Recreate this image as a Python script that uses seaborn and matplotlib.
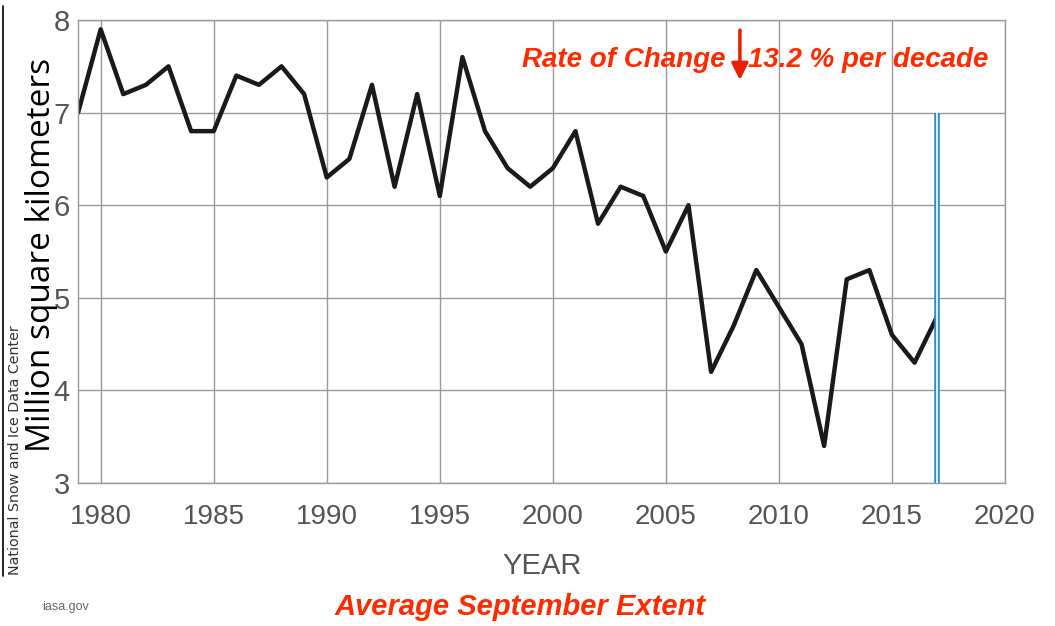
import numpy as np
import matplotlib
matplotlib.use("Agg")
import matplotlib.pyplot as plt
import seaborn as sns
import pandas as pd

# Average September sea ice extent (million km^2)
years = list(range(1979, 2018))
extent = [7.0, 7.9, 7.2, 7.3, 7.5, 6.8, 6.8, 7.4, 7.3, 7.5,
          7.2, 6.3, 6.5, 7.3, 6.2, 7.2, 6.1, 7.6, 6.8, 6.4,
          6.2, 6.4, 6.8, 5.8, 6.2, 6.1, 5.5, 6.0, 4.2, 4.7,
          5.3, 4.9, 4.5, 3.4, 5.2, 5.3, 4.6, 4.3, 4.8]
x_ticks = [1980, 1985, 1990, 1995, 2000, 2005, 2010, 2015, 2020]
y_ticks = [3, 4, 5, 6, 7, 8]

df = pd.DataFrame({"year": years, "extent": extent})

sns.set_style("whitegrid")
plt.rcParams['font.family'] = ['Liberation Sans', 'DejaVu Sans']

fig = plt.figure(figsize=(10.55, 6.26), dpi=100)
ax = fig.add_axes([0.074, 0.2284, 0.8786, 0.7396])

sns.lineplot(data=df, x="year", y="extent", ax=ax, color="#1a1a1a", linewidth=3.2)

# marker line at last year
ax.vlines(years[-1], 3, 7, color="#2a8fc8", linewidth=4, zorder=3)
ax.vlines(years[-1], 3, 7, color="white", linewidth=1.2, zorder=4)

ax.set_xlim(1979, 2020)
ax.set_ylim(3, 8)
ax.set_xticks(x_ticks)
ax.set_yticks(y_ticks)
ax.grid(True, color="#9a9a9a", linewidth=1.0)
for s in ax.spines.values():
    s.set_color("#9a9a9a")
    s.set_linewidth(1.0)
ax.tick_params(axis="x", labelsize=20, labelcolor="#555555", pad=15, length=0)
ax.tick_params(axis="y", labelsize=21, labelcolor="#555555", pad=6, length=0)

ax.set_xlabel("YEAR", fontsize=21, color="#555555", labelpad=16)
ax.set_ylabel("")
fig.text(0.039, 0.593, "Million square kilometers", rotation=90, fontsize=24,
         family=['Open Sans', 'DejaVu Sans'], color="black", ha="center", va="center")
fig.text(0.014, 0.081, "National Snow and Ice Data Center", rotation=90, fontsize=10.3,
         family=['DejaVu Sans'], color="#333333", ha="center", va="bottom")
fig.text(0.04, 0.03, "iasa.gov", fontsize=9, color="#666666", ha="left", va="center")

red = "#ff2a00"
fig.text(0.493, 0.03, "Average September Extent", fontsize=21, color=red,
         fontweight="bold", fontstyle="italic", ha="center", va="center")
ax.text(0.698, 0.913, "Rate of Change", transform=ax.transAxes, fontsize=20, color=red,
        fontweight="bold", fontstyle="italic", ha="right", va="center")
ax.text(0.723, 0.913, "13.2 % per decade", transform=ax.transAxes, fontsize=20, color=red,
        fontweight="bold", fontstyle="italic", ha="left", va="center")
ax.annotate("", xy=(0.714, 0.872), xytext=(0.714, 0.952),
            xycoords=("axes fraction", "figure fraction"),
            textcoords=("axes fraction", "figure fraction"),
            arrowprops=dict(arrowstyle="-|>", color="#e82000", lw=2.5, mutation_scale=25,
                            shrinkA=0, shrinkB=0))

# thin frame line at the left edge of the image
fig.add_artist(plt.Line2D([0.003, 0.003], [0.08, 0.99], color="black", linewidth=1.2))

fig.savefig("out.png", dpi=100)
